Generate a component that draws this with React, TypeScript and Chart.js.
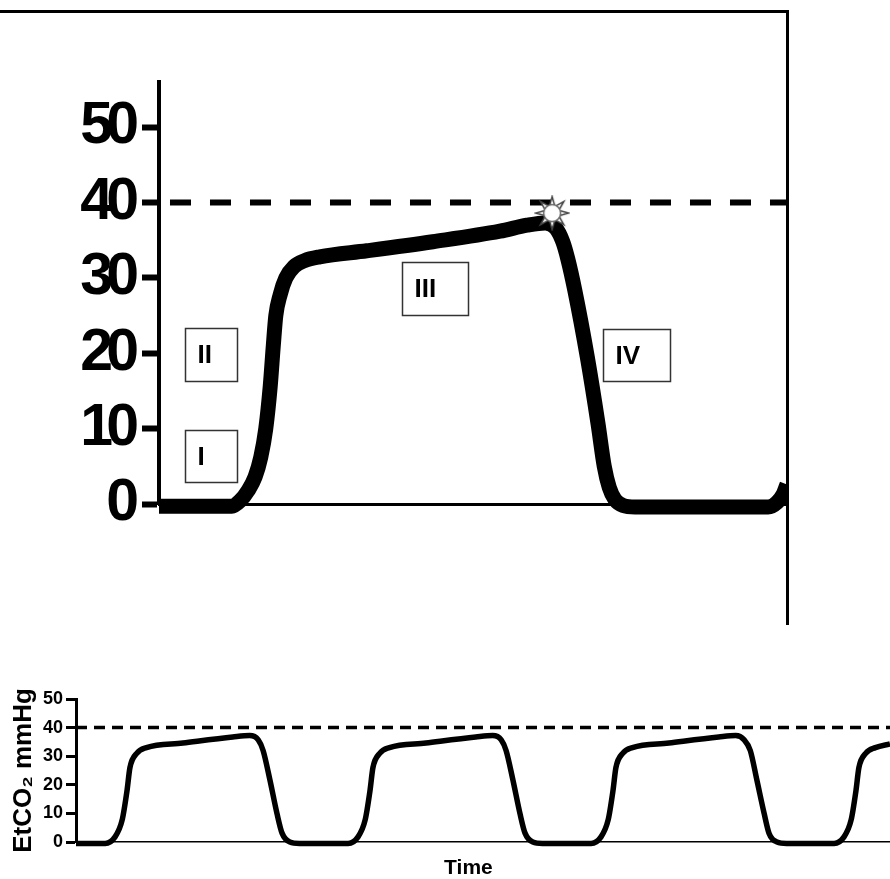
import React, { useEffect, useRef } from 'react';
import { Chart, registerables } from 'chart.js';

Chart.register(...registerables);

// ---------- Top chart (single capnogram cycle) ----------
const topTime = [0, 11.6, 12.9, 14.2, 15.3, 16.2, 17.0, 17.7, 18.2, 18.6, 19.3, 20.2, 21.5, 23.2, 25.6, 33.1, 43.6, 54.3, 58.6, 61.5, 63.2, 64.3, 65.1, 66.2, 68.2, 69.9, 70.9, 71.7, 72.6, 73.9, 75.8, 97.0, 98.4, 99.4, 100];
const topCO2 = [-0.3, -0.3, 0.4, 1.8, 3.6, 6.2, 10.0, 15.5, 21.0, 25.0, 27.8, 30.0, 31.5, 32.3, 32.8, 33.6, 34.8, 36.2, 37.0, 37.3, 36.6, 34.8, 32.5, 28.4, 19.5, 10.7, 5.0, 2.2, 0.6, -0.2, -0.4, -0.4, 0.2, 1.3, 2.6];
const topYTicks = [0, 10, 20, 30, 40, 50];
const topYMax = 56;
const topXMax = 100;
const threshold = 40;
const topDashTime = [1.75, 100];
const peakTime = [62.6];
const peakCO2 = [38.6];

// phase annotation boxes (data coordinates)
const phaseLabels = ['I', 'II', 'III', 'IV'];
const phaseT0 = [4.1, 4.1, 38.7, 70.7];
const phaseT1 = [12.4, 12.4, 49.2, 81.4];
const phaseTop = [9.8, 23.3, 32.1, 23.2];
const phaseBottom = [2.9, 16.3, 25.1, 16.3];

// ---------- Bottom chart (continuous capnogram) ----------
const bottomTime = [
  0, 1.2, 1.6, 1.9, 2.1, 2.22, 2.5, 2.9, 4.4, 6.45, 7.15, 7.5, 7.7, 7.98, 8.27, 8.48, 8.8, 9.2,
  11.2, 11.6, 11.9, 12.1, 12.22, 12.5, 12.9, 14.4, 16.45, 17.15, 17.5, 17.7, 17.98, 18.27, 18.48, 18.8, 19.2,
  21.2, 21.6, 21.9, 22.1, 22.22, 22.5, 22.9, 24.4, 26.45, 27.15, 27.5, 27.75, 28.02, 28.32, 28.52, 28.85, 29.25,
  31.2, 31.6, 31.9, 32.1, 32.22, 32.5, 32.9, 33.5,
];
const bottomCO2 = [
  -0.5, -0.5, 1.7, 7.7, 18, 26, 31, 33, 34.6, 36.7, 37.2, 35.7, 32, 21.7, 10, 3.1, 0, -0.5,
  -0.5, 1.7, 7.7, 18, 26, 31, 33, 34.6, 36.7, 37.2, 35.7, 32, 21.7, 10, 3.1, 0, -0.5,
  -0.5, 1.7, 7.7, 18, 26, 31, 33, 34.6, 36.7, 37.2, 35.7, 32, 21.7, 10, 3.1, 0, -0.5,
  -0.5, 1.7, 7.7, 18, 26, 31, 33, 34.3,
];
const bottomYTicks = [0, 10, 20, 30, 40, 50];
const bottomYMax = 50;
const bottomXMax = 33.5;
const bottomDashTime = [0, 33.5];

const SANS = '"Liberation Sans", Arial, Helvetica, sans-serif';

function makeSun(): HTMLCanvasElement {
  const c = document.createElement('canvas');
  c.width = 36;
  c.height = 36;
  const g = c.getContext('2d')!;
  const cx = 18, cy = 18;
  g.lineWidth = 1.5;
  g.strokeStyle = '#444';
  g.fillStyle = '#fff';
  for (let k = 0; k < 8; k++) {
    const a = -Math.PI / 2 + (k * Math.PI) / 4;
    const w = 0.32;
    g.beginPath();
    g.moveTo(cx + 16.5 * Math.cos(a), cy + 16.5 * Math.sin(a));
    g.lineTo(cx + 8 * Math.cos(a - w), cy + 8 * Math.sin(a - w));
    g.lineTo(cx + 8 * Math.cos(a + w), cy + 8 * Math.sin(a + w));
    g.closePath();
    g.fill();
    g.stroke();
  }
  g.beginPath();
  g.arc(cx, cy, 8.5, 0, Math.PI * 2);
  g.fill();
  g.strokeStyle = '#666';
  g.stroke();
  return c;
}

const tightDigitsPlugin = {
  id: 'tightDigits',
  beforeDraw(chart: any) {
    chart.ctx.letterSpacing = '-7px';
  },
  afterDraw(chart: any) {
    chart.ctx.letterSpacing = '0px';
  },
};

const phaseBoxPlugin = {
  id: 'phaseBoxes',
  afterDatasetsDraw(chart: any) {
    const { ctx, scales } = chart;
    const x = scales.x, y = scales.y;
    ctx.save();
    ctx.letterSpacing = '0px';
    phaseLabels.forEach((lab, i) => {
      const l = Math.round(x.getPixelForValue(phaseT0[i])) + 0.5;
      const r = Math.round(x.getPixelForValue(phaseT1[i])) + 0.5;
      const t = Math.round(y.getPixelForValue(phaseTop[i])) + 0.5;
      const b = Math.round(y.getPixelForValue(phaseBottom[i])) + 0.5;
      ctx.strokeStyle = '#333';
      ctx.lineWidth = 1.5;
      ctx.strokeRect(l, t, r - l, b - t);
      ctx.fillStyle = '#000';
      ctx.font = `bold 26px ${SANS}`;
      ctx.textAlign = 'left';
      ctx.textBaseline = 'middle';
      ctx.fillText(lab, l + 12, (t + b) / 2 + 1);
    });
    ctx.restore();
  },
};

function TopChart() {
  const ref = useRef<HTMLCanvasElement>(null);
  useEffect(() => {
    const sun = makeSun();
    const chart = new Chart(ref.current!, {
      type: 'scatter',
      data: {
        datasets: [
          {
            label: 'peak',
            data: peakTime.map((t, i) => ({ x: t, y: peakCO2[i] })),
            pointStyle: sun as any,
            pointRadius: 16,
            showLine: false,
          } as any,
          {
            label: 'EtCO2',
            data: topTime.map((t, i) => ({ x: t, y: topCO2[i] })),
            showLine: true,
            borderColor: '#000',
            backgroundColor: '#000',
            borderWidth: 15,
            pointRadius: 0,
            cubicInterpolationMode: 'monotone',
            borderCapStyle: 'butt',
            borderJoinStyle: 'round',
            clip: { left: 0, right: 0, top: 30, bottom: 30 },
          } as any,
          {
            label: 'threshold',
            data: topDashTime.map((t) => ({ x: t, y: threshold })),
            showLine: true,
            borderColor: '#000',
            borderWidth: 6,
            borderDash: [21, 19],
            pointRadius: 0,
          } as any,
        ],
      },
      options: {
        responsive: false,
        animation: false,
        events: [],
        layout: { padding: { top: 82, right: 103, bottom: 126, left: 0 } },
        plugins: { legend: { display: false }, tooltip: { enabled: false } },
        scales: {
          x: {
            type: 'linear',
            min: 0,
            max: topXMax,
            ticks: { display: false },
            grid: { display: false },
            border: { display: true, color: '#000', width: 3 },
            afterFit: (s: any) => {
              s.height = 0;
            },
          },
          y: {
            type: 'linear',
            min: 0,
            max: topYMax,
            afterBuildTicks: (s: any) => {
              s.ticks = topYTicks.map((v) => ({ value: v }));
            },
            ticks: {
              color: '#000',
              padding: 10,
              font: { family: SANS, size: 59, weight: 'bold' },
            },
            grid: {
              display: true,
              drawOnChartArea: false,
              drawTicks: true,
              tickLength: 17,
              tickWidth: 6,
              tickColor: '#000',
            },
            border: { display: true, color: '#000', width: 4 },
            afterFit: (s: any) => {
              s.width = 159;
            },
          },
        },
      } as any,
      plugins: [tightDigitsPlugin, phaseBoxPlugin],
    });
    return () => chart.destroy();
  }, []);
  return (
    <canvas
      ref={ref}
      width={890}
      height={630}
      style={{ position: 'absolute', left: 0, top: 0, width: 890, height: 630 }}
    />
  );
}

function BottomChart() {
  const ref = useRef<HTMLCanvasElement>(null);
  useEffect(() => {
    const chart = new Chart(ref.current!, {
      type: 'scatter',
      data: {
        datasets: [
          {
            label: 'EtCO2',
            data: bottomTime.map((t, i) => ({ x: t, y: bottomCO2[i] })),
            showLine: true,
            borderColor: '#000',
            borderWidth: 5.5,
            pointRadius: 0,
            cubicInterpolationMode: 'monotone',
            borderCapStyle: 'butt',
            borderJoinStyle: 'round',
            clip: { left: 0, right: 0, top: 10, bottom: 10 },
          } as any,
          {
            label: 'threshold',
            data: bottomDashTime.map((t) => ({ x: t, y: threshold })),
            showLine: true,
            borderColor: '#000',
            borderWidth: 3.5,
            borderDash: [11, 7],
            pointRadius: 0,
          } as any,
        ],
      },
      options: {
        responsive: false,
        animation: false,
        events: [],
        layout: { padding: { top: 59, right: 0, bottom: 0, left: 0 } },
        plugins: { legend: { display: false }, tooltip: { enabled: false } },
        scales: {
          x: {
            type: 'linear',
            min: 0,
            max: bottomXMax,
            ticks: { display: false },
            grid: { display: false },
            border: { display: true, color: '#000', width: 1.5 },
            title: {
              display: true,
              text: 'Time     ',
              color: '#000',
              font: { family: SANS, size: 21, weight: 'bold', lineHeight: 1 },
              padding: { top: 0, bottom: 0 },
            },
            afterFit: (s: any) => {
              s.height = 37;
            },
          },
          y: {
            type: 'linear',
            min: 0,
            max: bottomYMax,
            afterBuildTicks: (s: any) => {
              s.ticks = bottomYTicks.map((v) => ({ value: v }));
            },
            ticks: {
              color: '#000',
              padding: 3,
              font: { family: SANS, size: 18, weight: 'bold' },
            },
            grid: {
              display: true,
              drawOnChartArea: false,
              drawTicks: true,
              tickLength: 10,
              tickWidth: 3,
              tickColor: '#000',
            },
            border: { display: true, color: '#000', width: 3 },
            title: {
              display: true,
              text: 'EtCO₂ mmHg',
              color: '#000',
              font: { family: SANS, size: 26, weight: 'bold' },
              padding: { top: 8, bottom: 0 },
            },
            afterFit: (s: any) => {
              s.width = 76;
            },
          },
        },
      } as any,
    });
    return () => chart.destroy();
  }, []);
  return (
    <canvas
      ref={ref}
      width={890}
      height={239}
      style={{ position: 'absolute', left: 0, top: 640, width: 890, height: 239 }}
    />
  );
}

export default function App() {
  return (
    <div
      style={{
        position: 'absolute',
        left: 0,
        top: 0,
        width: 890,
        height: 879,
        overflow: 'hidden',
        background: '#fff',
      }}
    >
      <TopChart />
      <div
        style={{
          position: 'absolute',
          left: 0,
          top: 10,
          width: 786,
          height: 612,
          borderTop: '3px solid #000',
          borderRight: '3px solid #000',
          pointerEvents: 'none',
        }}
      />
      <BottomChart />
    </div>
  );
}
